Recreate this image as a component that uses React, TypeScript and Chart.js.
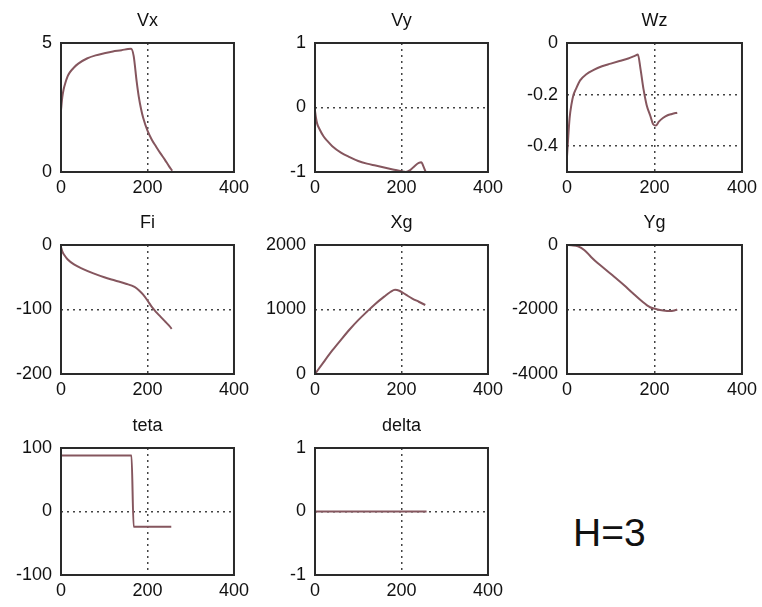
import React, { useEffect, useRef } from 'react';
import { Chart, registerables } from 'chart.js';

Chart.register(...registerables);

// ---- data ----
const xTicks = [0, 200, 400];

const vxT = [0, 3, 6, 10, 15, 20, 30, 40, 60, 80, 100, 120, 140, 155, 162, 168, 175, 180, 185, 190, 200, 210, 220, 230, 240, 250, 257];
const vxV = [2.4, 2.9, 3.2, 3.45, 3.7, 3.85, 4.05, 4.2, 4.4, 4.52, 4.6, 4.67, 4.72, 4.77, 4.78, 4.5, 3.5, 2.9, 2.45, 2.1, 1.6, 1.25, 0.98, 0.72, 0.48, 0.22, 0.05];
const vxTicks = [0, 5];

const vyT = [0, 2, 5, 10, 20, 30, 40, 60, 80, 100, 120, 140, 160, 180, 200, 210, 220, 230, 240, 246, 250, 256];
const vyV = [-0.05, -0.15, -0.25, -0.33, -0.45, -0.53, -0.6, -0.7, -0.77, -0.83, -0.87, -0.9, -0.93, -0.96, -0.99, -1.0, -0.97, -0.91, -0.86, -0.85, -0.9, -1.0];
const vyTicks = [-1, 0, 1];

const wzT = [0, 3, 6, 10, 15, 20, 30, 45, 60, 80, 100, 120, 140, 155, 162, 168, 175, 182, 190, 197, 203, 210, 220, 230, 240, 252];
const wzV = [-0.44, -0.36, -0.29, -0.24, -0.2, -0.18, -0.145, -0.12, -0.105, -0.09, -0.08, -0.07, -0.06, -0.05, -0.045, -0.1, -0.18, -0.24, -0.28, -0.315, -0.32, -0.305, -0.29, -0.28, -0.275, -0.27];
const wzTicks = [-0.4, -0.2, 0];

const fiT = [0, 3, 8, 15, 30, 50, 75, 100, 125, 150, 170, 180, 190, 200, 210, 220, 230, 240, 250, 256];
const fiV = [-3, -10, -16, -22, -30, -37, -44, -50, -55, -60, -65, -70, -77, -86, -96, -104, -111, -118, -125, -130];
const fiTicks = [-200, -100, 0];

const xgT = [0, 20, 40, 60, 80, 100, 120, 140, 160, 175, 185, 195, 210, 225, 240, 255];
const xgV = [0, 185, 365, 530, 690, 835, 965, 1090, 1200, 1275, 1305, 1290, 1230, 1170, 1120, 1070];
const xgTicks = [0, 1000, 2000];

const ygT = [0, 10, 25, 40, 55, 70, 90, 110, 130, 150, 170, 190, 205, 220, 235, 245, 252];
const ygV = [0, -10, -40, -160, -370, -560, -780, -1010, -1240, -1490, -1730, -1930, -1990, -2030, -2050, -2030, -2000];
const ygTicks = [-4000, -2000, 0];

const tetaT = [0, 163, 168, 255];
const tetaV = [88, 88, -24, -24];
const tetaTicks = [-100, 0, 100];

const deltaT = [0, 258];
const deltaV = [0, 0];
const deltaTicks = [-1, 0, 1];

const titles = ['Vx', 'Vy', 'Wz', 'Fi', 'Xg', 'Yg', 'teta', 'delta'];
const annotation = 'H=3';

// ---- layout / style ----
const colLeft = [61, 315, 567];
const colRight = [237, 491, 745];
const rowTop = [43, 245, 448];
const rowBottom = [172, 374, 575];
const Y_AXIS_W = 60;
const X_AXIS_H = 30;
const TOP_PAD = 35;
const RIGHT_PAD = 17;
const FONT = "'Liberation Sans', Arial, sans-serif";
const LINE_COLOR = '#85565e';
const TEXT_COLOR = '#111';

type PanelDef = {
  title: string;
  t: number[];
  v: number[];
  yMin: number;
  yMax: number;
  yTicks: number[];
  col: number;
  row: number;
};

const panels: PanelDef[] = [
  { title: titles[0], t: vxT, v: vxV, yMin: 0, yMax: 5, yTicks: vxTicks, col: 0, row: 0 },
  { title: titles[1], t: vyT, v: vyV, yMin: -1, yMax: 1, yTicks: vyTicks, col: 1, row: 0 },
  { title: titles[2], t: wzT, v: wzV, yMin: -0.5, yMax: 0, yTicks: wzTicks, col: 2, row: 0 },
  { title: titles[3], t: fiT, v: fiV, yMin: -200, yMax: 0, yTicks: fiTicks, col: 0, row: 1 },
  { title: titles[4], t: xgT, v: xgV, yMin: 0, yMax: 2000, yTicks: xgTicks, col: 1, row: 1 },
  { title: titles[5], t: ygT, v: ygV, yMin: -4000, yMax: 0, yTicks: ygTicks, col: 2, row: 1 },
  { title: titles[6], t: tetaT, v: tetaV, yMin: -100, yMax: 100, yTicks: tetaTicks, col: 0, row: 2 },
  { title: titles[7], t: deltaT, v: deltaV, yMin: -1, yMax: 1, yTicks: deltaTicks, col: 1, row: 2 },
];

function gridColor(ctx: any) {
  const s = ctx.scale;
  const v = ctx.tick ? ctx.tick.value : 0;
  if (Math.abs(v - s.min) < 1e-9 || Math.abs(v - s.max) < 1e-9) return 'rgba(0,0,0,0)';
  return '#444';
}

function Panel({ p }: { p: PanelDef }) {
  const ref = useRef<HTMLCanvasElement | null>(null);
  const plotW = colRight[p.col] - colLeft[p.col];
  const plotH = rowBottom[p.row] - rowTop[p.row];
  const W = plotW + Y_AXIS_W + RIGHT_PAD;
  const H = plotH + TOP_PAD + X_AXIS_H;
  const left = colLeft[p.col] - Y_AXIS_W;
  const top = rowTop[p.row] - TOP_PAD;

  useEffect(() => {
    if (!ref.current) return;
    const framePlugin = {
      id: 'frameTitle',
      afterDraw(chart: any) {
        const { ctx, chartArea: a } = chart;
        ctx.save();
        ctx.strokeStyle = '#2a2a2a';
        ctx.lineWidth = 2;
        ctx.strokeRect(a.left, a.top, a.right - a.left, a.bottom - a.top);
        ctx.fillStyle = TEXT_COLOR;
        ctx.font = `18px ${FONT}`;
        ctx.textAlign = 'center';
        ctx.textBaseline = 'middle';
        ctx.fillText(p.title, (a.left + a.right) / 2, a.top - 22);
        ctx.restore();
      },
    };
    const chart = new Chart(ref.current, {
      type: 'line',
      data: {
        datasets: [
          {
            data: p.t.map((x, i) => ({ x, y: p.v[i] })),
            borderColor: LINE_COLOR,
            borderWidth: 2,
            pointRadius: 0,
            fill: false,
            cubicInterpolationMode: 'monotone',
          },
        ],
      },
      options: {
        responsive: false,
        maintainAspectRatio: false,
        animation: false,
        layout: { padding: { top: TOP_PAD, right: RIGHT_PAD, left: 0, bottom: 0 } },
        plugins: { legend: { display: false }, tooltip: { enabled: false }, title: { display: false } },
        scales: {
          x: {
            type: 'linear',
            min: 0,
            max: 400,
            afterBuildTicks: (s: any) => {
              s.ticks = xTicks.map((value) => ({ value }));
            },
            afterFit: (s: any) => {
              s.height = X_AXIS_H;
            },
            ticks: {
              padding: 5,
              maxRotation: 0,
              autoSkip: false,
              color: TEXT_COLOR,
              font: { family: FONT, size: 18 },
              callback: (v: any) => String(v),
            },
            grid: { drawTicks: false, color: gridColor, lineWidth: 1.5 },
            border: { display: false, dash: [2, 4] },
          },
          y: {
            type: 'linear',
            min: p.yMin,
            max: p.yMax,
            afterBuildTicks: (s: any) => {
              s.ticks = p.yTicks.map((value) => ({ value }));
            },
            afterFit: (s: any) => {
              s.width = Y_AXIS_W;
            },
            ticks: {
              padding: 9,
              autoSkip: false,
              color: TEXT_COLOR,
              font: { family: FONT, size: 18 },
              callback: (v: any) => String(v),
            },
            grid: { drawTicks: false, color: gridColor, lineWidth: 1.5 },
            border: { display: false, dash: [2, 4] },
          },
        },
      } as any,
      plugins: [framePlugin],
    });
    return () => chart.destroy();
  }, []);

  return (
    <canvas
      ref={ref}
      width={W}
      height={H}
      style={{ position: 'absolute', left, top, width: W, height: H }}
    />
  );
}

export default function App() {
  return (
    <div
      style={{
        position: 'absolute',
        left: 0,
        top: 0,
        width: 762,
        height: 607,
        overflow: 'hidden',
        background: '#fff',
      }}
    >
      {panels.map((p) => (
        <Panel key={p.title} p={p} />
      ))}
      <div
        style={{
          position: 'absolute',
          left: 573,
          top: 513,
          fontFamily: FONT,
          fontSize: 39,
          lineHeight: '39px',
          color: '#111',
          whiteSpace: 'nowrap',
        }}
      >
        {annotation}
      </div>
    </div>
  );
}
